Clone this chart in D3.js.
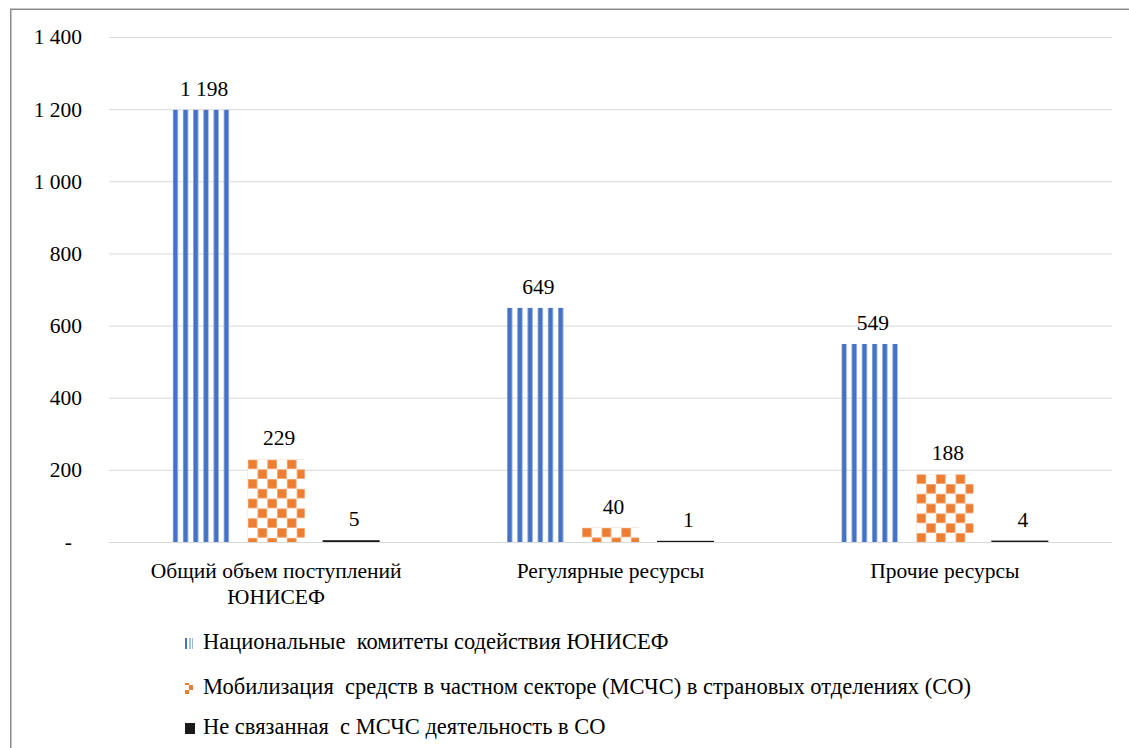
<!DOCTYPE html>
<html>
<head>
<meta charset="utf-8">
<script src="https://cdn.jsdelivr.net/npm/d3@7/dist/d3.min.js"></script>
<style>
  html, body { margin: 0; padding: 0; background: #fff; }
  svg { display: block; }
</style>
</head>
<body>
<svg id="chart" width="1129" height="748"></svg>
<script>
const categories = ["Общий объем поступлений\nЮНИСЕФ", "Регулярные ресурсы", "Прочие ресурсы"];
const seriesNames = [
  "Национальные  комитеты содействия ЮНИСЕФ",
  "Мобилизация  средств в частном секторе (МСЧС) в страновых отделениях (СО)",
  "Не связанная  с МСЧС деятельность в СО"
];
const nationalCommittees = [1198, 649, 549];
const privateSectorCO = [229, 40, 188];
const nonPsfrCO = [5, 1, 4];
const yTickValues = [0, 200, 400, 600, 800, 1000, 1200, 1400];
const yTickLabels = ["-", "200", "400", "600", "800", "1 000", "1 200", "1 400"];

const seriesValues = [nationalCommittees, privateSectorCO, nonPsfrCO];
const fmt = d3.formatLocale({decimal: ",", thousands: " ", grouping: [3], currency: ["", ""]}).format(",d");
const FONT = "'Liberation Serif'";
const FS = "21.5px";
const FS_LEGEND = "22.5px";

const svg = d3.select("#chart");
const W = 1129, H = 748;
const plot = {left: 109, right: 1112, top: 37, bottom: 542};

// patterns
const defs = svg.append("defs");
const stripe = defs.append("pattern").attr("id", "stripes").attr("patternUnits", "userSpaceOnUse")
  .attr("width", 10.2).attr("height", 10);
stripe.append("rect").attr("x", 0).attr("y", 0).attr("width", 5.4).attr("height", 10).attr("fill", "#8eaadb");
stripe.append("rect").attr("x", 0.8).attr("y", 0).attr("width", 3.8).attr("height", 10).attr("fill", "#4472c4");

const checker = defs.append("pattern").attr("id", "checker").attr("patternUnits", "userSpaceOnUse")
  .attr("width", 19.6).attr("height", 19.6);
checker.append("rect").attr("width", 19.6).attr("height", 19.6).attr("fill", "#fff");
[[0, 0], [9.8, 9.8]].forEach(([cx, cy]) => {
  checker.append("rect").attr("x", cx).attr("y", cy).attr("width", 9.8).attr("height", 9.8).attr("fill", "#f4b183");
  checker.append("rect").attr("x", cx + 0.8).attr("y", cy + 0.8).attr("width", 8.2).attr("height", 8.2).attr("fill", "#ed7d31");
});

const checkerSmall = defs.append("pattern").attr("id", "checkerSmall").attr("patternUnits", "userSpaceOnUse")
  .attr("width", 9).attr("height", 10);
checkerSmall.append("rect").attr("width", 9).attr("height", 10).attr("fill", "#fff");
checkerSmall.append("rect").attr("x", 4.5).attr("y", 0).attr("width", 4.5).attr("height", 5).attr("fill", "#ed7d31");
checkerSmall.append("rect").attr("x", 0).attr("y", 5).attr("width", 4.5).attr("height", 5).attr("fill", "#ed7d31");

const stripeSmall = defs.append("pattern").attr("id", "stripeSmall").attr("patternUnits", "userSpaceOnUse")
  .attr("width", 9).attr("height", 12);
stripeSmall.append("rect").attr("x", 0).attr("width", 2).attr("height", 12).attr("fill", "#a9bfe6");
stripeSmall.append("rect").attr("x", 3.5).attr("width", 3.5).attr("height", 12).attr("fill", "#4472c4");

const fills = ["url(#stripes)", "url(#checker)", "#1a1a1a"];
const legendFills = ["url(#stripeSmall)", "url(#checkerSmall)", "#1a1a1a"];

// frame
svg.append("line").attr("x1", 10.75).attr("x2", 10.75).attr("y1", 9).attr("y2", H)
  .attr("stroke", "#8c8c8c").attr("stroke-width", 1.5);
svg.append("line").attr("x1", 10).attr("x2", W).attr("y1", 9.25).attr("y2", 9.25)
  .attr("stroke", "#8c8c8c").attr("stroke-width", 1.5);

const y = d3.scaleLinear().domain([0, 1400]).range([plot.bottom, plot.top]);
const x0 = d3.scaleBand().domain(categories).range([plot.left, plot.right]).paddingInner(0).paddingOuter(0);
const x1 = d3.scaleBand().domain(d3.range(seriesNames.length)).range([0, x0.bandwidth()])
  .paddingInner(0.24).paddingOuter(0.849);

// gridlines + y labels
const yAxis = d3.axisLeft(y).tickValues(yTickValues).tickSize(-(plot.right - plot.left))
  .tickFormat((d, i) => yTickLabels[i]).tickPadding(27);
const gy = svg.append("g").attr("transform", `translate(${plot.left},0)`).call(yAxis);
gy.attr("font-family", null).attr("font-size", null);
gy.select(".domain").remove();
gy.selectAll(".tick line").attr("stroke", "#d9d9d9").attr("stroke-width", 1);
gy.selectAll(".tick text").style("font-family", FONT).style("font-size", FS)
  .attr("fill", "#000")
  .attr("dx", (d, i) => yTickLabels[i] === "-" ? -10 : 0);

// bars
const groups = svg.append("g").selectAll("g").data(categories).join("g")
  .attr("transform", d => `translate(${x0(d)},0)`);

groups.each(function(cat, ci) {
  const g = d3.select(this);
  seriesValues.forEach((vals, si) => {
    const v = vals[ci];
    const top = y(v);
    const h = Math.max(y(0) - top, 1.2);
    const bx = x1(si);
    const bar = g.append("g").attr("transform", `translate(${bx},${y(0) - h})`);
    bar.append("rect").attr("x", 0).attr("y", 0).attr("width", x1.bandwidth()).attr("height", h)
      .attr("fill", fills[si]);
    g.append("text").attr("x", bx + x1.bandwidth() / 2 + 3).attr("y", y(0) - h - 14)
      .attr("text-anchor", "middle").style("font-size", FS).style("font-family", FONT).text(fmt(v));
  });
  const lines = cat.split("\n");
  const t = g.append("text").attr("text-anchor", "middle").style("font-size", FS).style("font-family", FONT);
  lines.forEach((ln, li) => {
    t.append("tspan").attr("x", x0.bandwidth() / 2).attr("y", 578 + li * 26).text(ln);
  });
});

// legend
const legendY = [649, 694, 734];
seriesNames.forEach((name, i) => {
  svg.append("rect").attr("x", 185).attr("y", legendY[i] - 11).attr("width", i === 2 ? 10 : 8)
    .attr("height", 11).attr("fill", legendFills[i]);
  svg.append("text").attr("x", 203).attr("y", legendY[i]).style("font-size", FS_LEGEND).style("font-family", FONT)
    .style("white-space", "pre").text(name);
});
</script>
</body>
</html>
